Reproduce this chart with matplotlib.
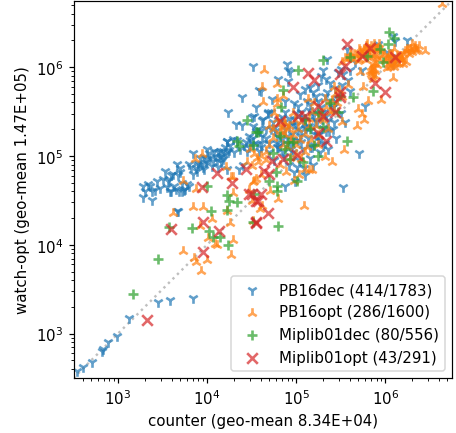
# -*- coding: utf-8 -*-
import matplotlib
matplotlib.use('Agg')
import matplotlib.pyplot as plt
import numpy as np

# values, as log10 of counter / watch-opt
pb16dec_x = [2.54, 2.61, 2.71, 2.82, 2.83, 2.89, 2.99, 3.12, 3.45, 3.58, 3.84, 3.66, 3.67,
             3.28, 3.38, 3.28, 3.36, 3.38, 3.47, 3.58, 3.63, 3.68, 3.75, 3.80, 3.50, 3.53,
             3.62, 3.67, 3.66, 3.80, 3.84, 3.89, 3.84, 4.02, 3.94, 3.99, 4.05, 4.09, 4.14,
             4.20, 4.22, 4.24, 4.16, 4.22, 3.72, 3.57, 3.70, 3.92, 3.97, 4.11, 4.18,
             4.51, 4.58, 4.39, 4.24, 4.33, 4.39, 4.53, 4.50, 4.55, 4.59, 4.22, 4.29, 4.44,
             4.51, 4.47, 4.17, 4.25, 4.36, 4.40, 4.60, 4.90, 4.91, 4.93, 5.30, 5.35, 4.80,
             4.91, 4.60, 5.10, 5.19, 5.33, 5.47, 5.53, 5.61, 5.57, 5.74, 5.61, 5.77, 5.71,
             5.53, 5.92, 6.09, 6.11, 6.24, 6.09, 6.02, 6.07, 5.10, 4.99, 4.88, 5.02, 4.73,
             4.55, 4.60, 4.66, 4.70, 4.72, 4.75, 4.78, 4.80, 4.82, 4.85, 4.87, 4.88, 4.90,
             4.92, 4.93, 4.95, 4.97, 4.98, 5.00, 5.02, 5.03, 5.05, 5.06, 5.08, 5.10, 5.12,
             5.13, 5.15, 5.17, 5.18, 5.20, 5.22, 5.23, 5.25, 5.27, 5.28, 5.30, 5.32, 5.34,
             5.35, 5.37, 5.40, 5.42, 5.45, 5.46, 5.50, 5.52, 5.55, 4.62, 4.68, 4.76, 4.84,
             4.94, 5.04, 5.11, 5.16, 5.21, 5.26, 5.31, 5.36, 4.97, 5.07, 5.14, 5.24, 5.29,
             5.41, 5.44, 4.79, 4.86, 4.98, 5.01, 5.09, 5.19, 4.47, 4.52, 4.57, 4.63, 4.68,
             3.30, 3.34, 3.42, 3.55, 3.60, 3.65, 3.70, 3.72, 3.78, 3.82, 3.87, 3.90, 3.95,
             4.00, 4.03, 4.07, 4.12, 4.15, 4.18, 4.20, 4.26, 4.12, 4.08, 4.00, 3.96, 3.90,
             3.74, 3.60, 3.56, 3.44,
             4.30, 4.34, 4.37, 4.41, 4.45, 4.48, 4.52, 4.56, 4.58, 4.62, 4.66, 4.70, 4.74,
             4.78, 4.82, 4.86, 4.90, 4.94, 4.98, 5.02, 5.06, 5.10, 5.14, 5.18, 5.22, 5.26,
             5.30, 5.34, 5.38, 5.42, 4.72, 4.76, 4.80, 4.84, 4.88, 4.92, 4.96, 5.00, 5.04,
             5.08, 5.12, 5.16, 5.20, 5.24, 5.28, 5.32, 5.36,
             5.38, 5.44, 5.50, 5.58, 5.66, 5.24, 5.28, 5.16]
pb16dec_y = [2.58, 2.62, 2.68, 2.80, 2.83, 2.91, 2.97, 3.17, 3.36, 3.38, 3.40, 4.38, 4.38,
             4.54, 4.50, 4.66, 4.66, 4.60, 4.64, 4.61, 4.66, 4.61, 4.63, 4.66, 4.74, 4.83,
             4.80, 4.78, 4.91, 4.91, 4.80, 4.83, 5.03, 5.03, 4.91, 4.93, 4.89, 5.00, 4.99,
             5.02, 5.17, 5.04, 4.93, 4.85, 4.70, 4.74, 4.86, 4.98, 4.85, 4.95, 5.06,
             6.01, 5.74, 5.66, 5.49, 5.36, 5.35, 5.45, 5.44, 5.55, 5.28, 5.17, 5.19, 5.16,
             5.13, 5.10, 5.00, 5.07, 4.85, 4.90, 5.15, 6.03, 5.97, 5.95, 5.97, 6.09, 5.87,
             5.84, 5.73, 5.75, 5.72, 5.87, 5.94, 5.92, 5.97, 6.20, 5.97, 5.73, 5.56, 5.03,
             4.65, 6.26, 6.35, 6.29, 6.30, 6.03, 6.17, 6.11, 4.78, 4.72, 4.66, 5.56, 5.64,
             5.28, 5.10, 5.20, 5.05, 5.30, 4.95, 5.15, 5.40, 5.25, 5.05, 5.50, 5.30, 5.15,
             4.90, 5.42, 5.25, 5.05, 5.60, 5.35, 5.18, 4.95, 5.50, 5.28, 5.08, 5.40, 5.62,
             5.20, 4.98, 5.32, 5.48, 5.12, 5.68, 5.38, 5.25, 5.05, 5.55, 5.32, 5.15, 5.45,
             5.72, 5.28, 5.55, 5.38, 5.20, 5.65, 5.48, 5.80, 5.38, 5.40, 5.48, 5.33, 5.19,
             5.12, 5.22, 5.32, 5.10, 5.40, 5.18, 5.50, 5.08, 5.36, 5.44, 5.34, 5.24, 5.42,
             5.30, 5.62, 5.10, 5.00, 4.82, 4.88, 4.86, 4.90, 5.22, 5.34, 5.30, 5.42, 5.50,
             4.60, 4.68, 4.62, 4.65, 4.78, 4.63, 4.82, 4.60, 4.68, 4.88, 4.86, 4.92, 4.88,
             4.96, 4.98, 4.94, 5.04, 5.06, 4.96, 5.10, 5.12, 4.88, 5.06, 5.08, 4.99, 4.90,
             4.62, 4.61, 4.72, 4.72,
             5.05, 5.18, 5.08, 5.12, 5.06, 5.18, 5.20, 5.14, 5.06, 5.22, 5.32, 5.15, 5.38,
             5.22, 5.12, 5.38, 5.22, 5.08, 5.42, 5.30, 5.16, 5.32, 5.52, 5.10, 5.24, 5.46,
             5.14, 5.28, 5.62, 5.56, 5.50, 5.28, 5.10, 5.44, 5.62, 5.34, 5.18, 5.48, 5.70,
             5.40, 5.34, 5.58, 5.46, 5.62, 5.50, 5.68, 5.40,
             5.82, 5.76, 5.98, 5.85, 6.06, 5.80, 5.90, 5.78]

pb16opt_x = [3.62, 3.84, 3.95, 4.05, 3.92, 4.01, 4.09, 4.11, 4.29, 4.27, 4.26, 3.73, 3.85,
             3.88, 4.00, 3.93, 4.22, 4.29, 4.27, 4.51, 4.50, 4.47, 4.59, 3.88, 3.73, 3.86,
             3.94, 4.21, 4.45, 4.53, 4.57, 4.29, 4.53, 4.60, 6.64, 6.45, 6.33, 6.23, 6.09,
             4.64, 4.62, 4.63, 4.79, 4.85, 4.79, 5.13, 5.52, 5.68, 5.76, 5.74, 5.70, 5.81,
             5.95, 5.75, 5.72, 5.54, 5.32, 5.40, 5.10, 4.98, 4.71, 4.55, 4.50, 4.89, 5.14,
             4.80, 4.62, 4.51, 5.09,
             5.65, 5.71, 5.76, 5.82, 5.87, 5.93, 5.65, 5.71, 5.76, 5.82, 5.87, 5.93, 5.87,
             5.85, 5.84, 5.86, 5.85, 5.88, 5.99, 6.04, 6.10, 6.15, 6.21, 6.27, 6.29, 6.32,
             6.36, 6.38, 6.20, 6.15, 6.10, 6.04, 6.10, 5.57, 5.52, 5.60, 5.80, 5.90, 5.96,
             6.02, 6.08, 6.18, 6.24, 6.30, 5.78, 5.90,
             4.85, 4.82, 4.88, 4.91, 4.97, 5.02, 5.06, 5.14, 5.22, 5.28, 5.34, 5.40, 5.44,
             5.10, 5.17, 5.25, 5.30, 5.36, 4.60, 4.66, 4.74, 4.82, 4.90, 4.96, 5.00, 5.06,
             5.12, 5.20, 4.75, 4.85, 4.93, 5.03, 5.18, 4.48, 4.56, 4.70, 4.78, 5.24, 5.42,
             5.55, 5.60, 5.62, 5.68, 5.72, 5.74, 5.78, 5.80, 5.84, 5.86, 5.89, 5.92, 5.95,
             5.78, 5.82, 5.86, 5.84, 5.87, 5.89, 5.85, 5.83, 5.88, 5.91, 6.00, 6.03, 6.06,
             6.08, 6.12, 6.14, 6.17, 6.19, 6.22, 6.25, 6.28, 6.30, 6.33, 6.35, 6.05, 6.10,
             6.13, 6.18, 6.02, 6.07, 5.69, 5.73,
             4.80, 4.84, 4.86, 4.88, 4.92, 4.94, 4.99, 5.00, 5.04, 4.78, 4.74, 4.70, 4.66,
             5.10, 5.14, 5.18, 5.26, 5.32, 5.38, 5.42, 5.46, 5.48, 5.52, 5.58]
pb16opt_y = [4.36, 4.43, 4.42, 4.29, 4.21, 4.08, 4.01, 4.00, 4.05, 3.89, 4.24, 3.93, 3.85,
             3.81, 3.83, 3.70, 4.38, 4.58, 4.76, 4.71, 4.49, 4.62, 4.40, 4.63, 4.72, 4.97,
             5.02, 4.87, 4.93, 5.02, 4.93, 4.76, 4.72, 4.78, 6.71, 6.18, 6.20, 6.06, 5.88,
             5.97, 5.78, 5.61, 5.81, 5.67, 5.64, 5.64, 5.38, 5.34, 5.40, 5.47, 5.53, 5.62,
             5.63, 5.78, 5.94, 5.07, 4.99, 4.93, 4.85, 4.72, 4.60, 4.74, 4.89, 4.82, 4.84,
             4.52, 4.44, 4.27, 4.44,
             6.15, 6.20, 6.20, 6.20, 6.26, 6.26, 6.09, 6.09, 6.15, 6.15, 6.15, 6.09, 6.03,
             5.97, 5.92, 5.87, 5.94, 6.05, 6.15, 6.09, 6.05, 6.09, 6.15, 6.15, 6.20, 6.22,
             6.20, 6.24, 6.03, 6.03, 6.03, 6.15, 6.20, 6.09, 6.06, 6.16, 6.26, 6.20, 6.12,
             6.10, 6.15, 6.12, 6.18, 6.26, 6.24, 6.12,
             5.33, 5.28, 5.36, 5.30, 5.24, 5.30, 5.38, 5.42, 5.34, 5.48, 5.55, 5.62, 5.70,
             5.25, 5.18, 5.12, 5.40, 5.30, 5.00, 4.95, 5.20, 4.90, 5.10, 5.48, 5.02, 4.96,
             5.10, 5.60, 5.48, 5.12, 4.98, 4.78, 4.84, 5.08, 4.98, 5.34, 5.58, 5.24, 5.52,
             6.10, 6.10, 6.14, 6.13, 6.18, 6.12, 6.22, 6.18, 6.24, 6.22, 6.20, 6.22, 6.18,
             6.08, 6.10, 6.12, 6.00, 5.98, 5.96, 5.90, 5.96, 5.90, 6.02, 6.07, 6.03, 6.02,
             6.08, 6.06, 6.10, 6.12, 6.08, 6.18, 6.20, 6.20, 6.17, 6.24, 6.18, 6.00, 6.00,
             6.12, 6.10, 5.99, 6.13, 6.07, 6.16,
             5.36, 5.26, 5.38, 5.24, 5.34, 5.18, 5.40, 5.12, 5.18, 5.42, 5.30, 5.12, 5.05,
             5.04, 5.34, 5.50, 5.44, 5.64, 5.50, 5.78, 5.60, 5.74, 5.66, 5.80]

miplib01dec_x = [3.45, 3.17, 3.57, 3.83, 4.04, 4.22, 4.02, 4.07, 4.15, 4.23, 4.22, 4.25, 4.34,
                 4.51, 4.53, 4.00, 4.45, 4.55, 4.34, 4.36, 4.52, 5.30, 5.02, 4.85, 4.83, 5.25,
                 5.47, 5.64, 5.49, 5.86, 5.61, 5.94, 6.03, 6.04, 6.10, 5.80, 5.98, 5.57, 5.24,
                 5.08, 5.01, 4.79, 4.79, 4.77, 4.91, 4.88, 4.96, 4.57, 5.10, 5.30, 4.69, 4.80,
                 4.74, 4.82, 4.93, 5.15, 5.20, 5.38]
miplib01dec_y = [3.84, 3.45, 4.20, 4.19, 4.38, 4.39, 4.16, 4.09, 4.09, 4.00, 4.56, 4.49, 4.48,
                 4.26, 4.57, 4.66, 5.40, 5.27, 5.17, 5.11, 5.12, 6.08, 5.97, 5.74, 5.55, 5.49,
                 5.49, 5.66, 5.67, 5.73, 6.11, 6.20, 6.26, 6.39, 6.33, 6.12, 6.06, 5.17, 5.00,
                 4.93, 4.72, 4.66, 4.60, 4.82, 5.16, 5.08, 5.16, 5.27, 5.42, 5.33, 4.72, 4.21,
                 5.03, 5.22, 4.96, 5.30, 5.12, 5.60]

miplib01opt_x = [3.32, 3.59, 3.95, 3.95, 4.13, 4.55, 3.94, 4.11, 4.28, 4.47, 4.55, 4.44, 4.50,
                 4.60, 4.57, 4.68, 4.55, 4.64, 4.69, 4.73, 4.85, 5.01, 5.33, 5.24, 5.44, 5.30,
                 5.25, 5.10, 5.02, 4.82, 4.96, 5.20, 5.13, 5.49, 5.55, 5.57, 5.83, 5.74, 6.11,
                 5.89, 6.00, 5.49, 5.49]
miplib01opt_y = [3.15, 4.18, 4.26, 3.92, 4.16, 4.26, 4.65, 4.81, 4.69, 4.57, 4.49, 4.85, 4.57,
                 4.57, 4.49, 4.36, 4.25, 4.83, 4.80, 4.94, 4.97, 5.01, 5.17, 5.26, 5.49, 5.45,
                 5.56, 5.45, 5.45, 5.39, 5.78, 5.85, 5.93, 5.92, 6.01, 6.26, 6.22, 6.12, 6.11,
                 5.82, 5.72, 5.72, 5.66]

series = [
    ('PB16dec (414/1783)', pb16dec_x, pb16dec_y, '1'),
    ('PB16opt (286/1600)', pb16opt_x, pb16opt_y, '2'),
    ('Miplib01dec (80/556)', miplib01dec_x, miplib01dec_y, '+'),
    ('Miplib01opt (43/291)', miplib01opt_x, miplib01opt_y, 'x'),
]
limits = [10**2.5, 10**6.75]

fig = plt.figure(figsize=(456/108, 434/108), dpi=108)
ax = fig.add_axes([73.5/456, 1-379/434, (452-73.5)/456, (379-1.5)/434])

# diagonal
ax.plot(limits, limits, ':', color='grey', alpha=0.5, linewidth=1.6, zorder=1)

for name, xs, ys, marker in series:
    ax.scatter(10**np.array(xs), 10**np.array(ys), s=50, marker=marker,
               alpha=0.7, linewidths=1.75, label=name, zorder=2)

ax.set_xscale('log')
ax.set_yscale('log')
ax.set_xlim(limits)
ax.set_ylim(limits)
ax.set_xlabel('counter (geo-mean 8.34E+04)')
ax.set_ylabel('watch-opt (geo-mean 1.47E+05)')
ax.legend(loc='lower right')

fig.savefig('out.png', dpi=108)
